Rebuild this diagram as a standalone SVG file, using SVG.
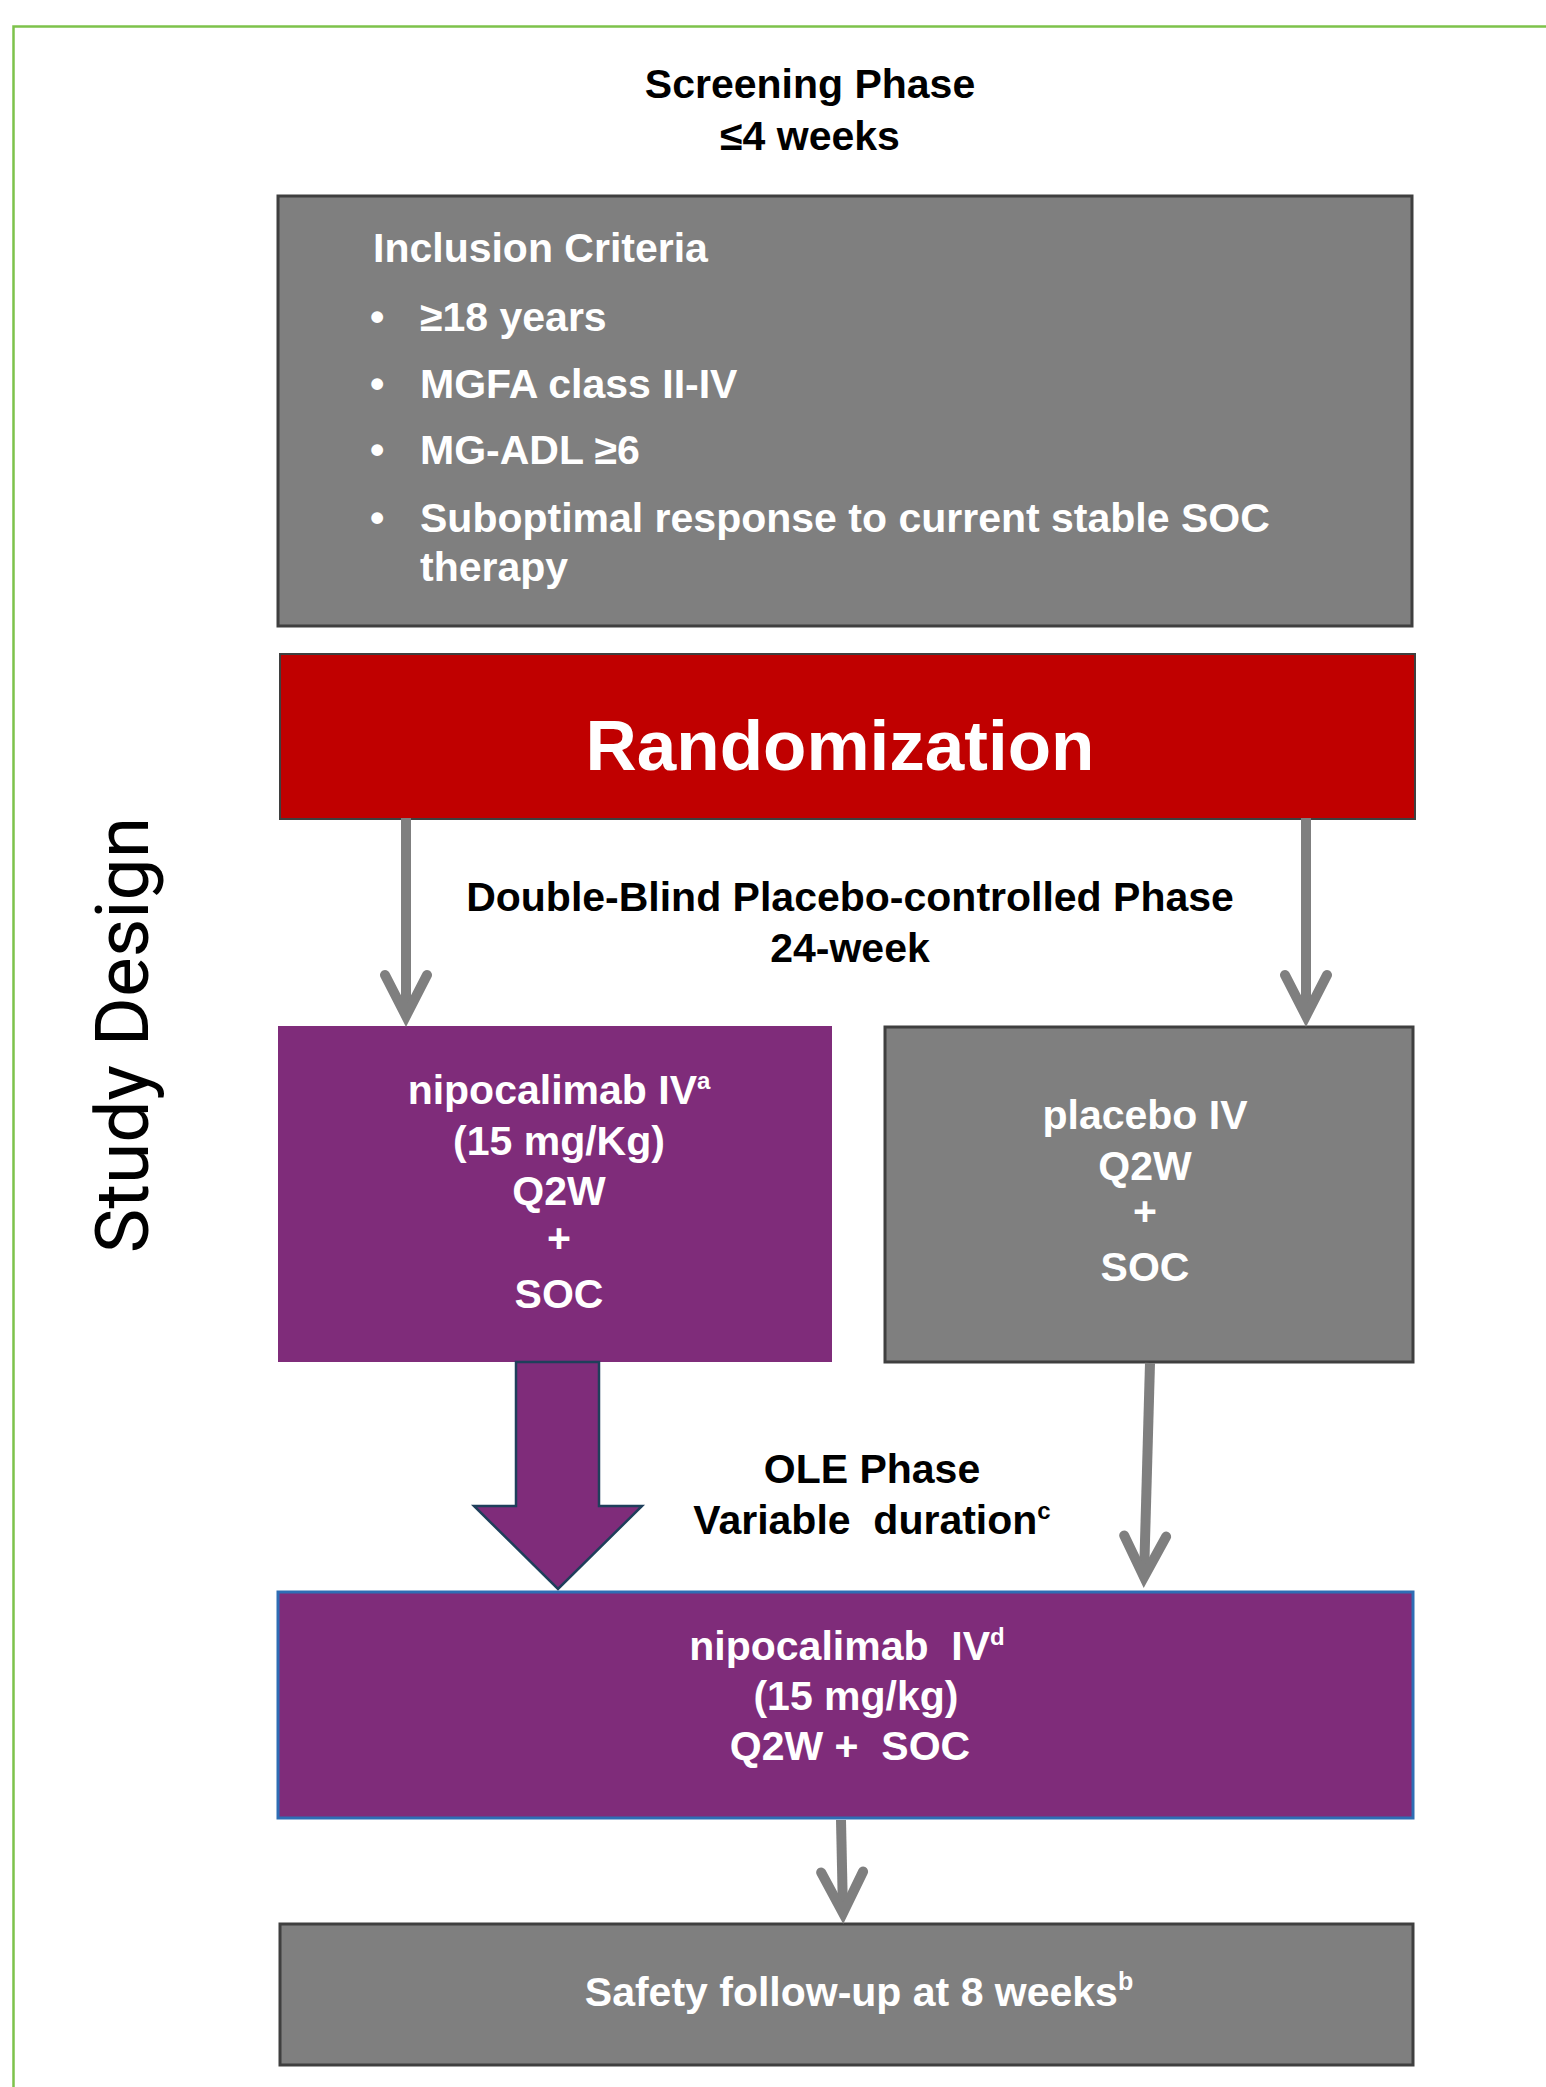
<svg xmlns="http://www.w3.org/2000/svg" width="1546" height="2087" viewBox="0 0 1546 2087">
<style>
.t{font-family:"Liberation Sans",Arial,sans-serif;font-weight:bold;font-size:41px}
.w{fill:#FFFFFF}
.k{fill:#000000}
.c{text-anchor:middle}
.gray{fill:#7F7F7F;stroke:#3F3F3F;stroke-width:3}
.purple{fill:#7F2C7A}
.conn{fill:none;stroke:#7F7F7F;stroke-width:10}
</style>
<defs>
<marker id="vee" markerUnits="userSpaceOnUse" orient="auto" markerWidth="1" markerHeight="1" refX="0" refY="0" style="overflow:visible">
<path d="M-41,-21 L0,0 L-41,21" fill="none" stroke="#7F7F7F" stroke-width="10" stroke-linecap="round" stroke-linejoin="miter"/>
</marker>
</defs>
<rect width="1546" height="2087" fill="#FFFFFF"/>
<g id="frame" fill="none" stroke="#7DC24B" stroke-width="2.5">
<path d="M13.5,2087 L13.5,26.5 L1546,26.5"/>
</g>
<g id="study-design-label">
<text transform="translate(148,1035) rotate(-90)" text-anchor="middle" font-family="Roboto,Arial,sans-serif" font-size="75" fill="#000000">Study Design</text>
</g>
<g id="screening-label">
<text class="t k c" x="810" y="98" font-size="40">Screening Phase</text>
<text class="t k c" x="810" y="150" font-size="40">≤4 weeks</text>
</g>
<g id="inclusion">
<rect class="gray" x="278" y="196" width="1134" height="430"/>
<text class="t w" x="373" y="262" font-size="40">Inclusion Criteria</text>
<text class="t w" x="370" y="331">•</text>
<text class="t w" x="420" y="331">≥18 years</text>
<text class="t w" x="370" y="398">•</text>
<text class="t w" x="420" y="398">MGFA class II-IV</text>
<text class="t w" x="370" y="464">•</text>
<text class="t w" x="420" y="464">MG-ADL ≥6</text>
<text class="t w" x="370" y="532">•</text>
<text class="t w" x="420" y="532">Suboptimal response to current stable SOC</text>
<text class="t w" x="420" y="581">therapy</text>
</g>
<g id="randomization">
<rect x="280" y="654" width="1135" height="165" fill="#C00000" stroke="#3F3F3F" stroke-width="2"/>
<text class="w c" x="840" y="770" font-family="Liberation Sans,Arial,sans-serif" font-weight="bold" font-size="71">Randomization</text>
</g>
<g id="db-label">
<text class="t k c" x="850" y="911">Double-Blind Placebo-controlled Phase</text>
<text class="t k c" x="850" y="962">24-week</text>
</g>
<g id="nipocalimab-arm">
<rect class="purple" x="278" y="1026" width="554" height="336"/>
<text class="t w c" x="559" y="1104">nipocalimab IV<tspan font-size="24" dy="-15">a</tspan></text>
<text class="t w c" x="559" y="1155">(15 mg/Kg)</text>
<text class="t w c" x="559" y="1205">Q2W</text>
<text class="t w c" x="559" y="1252">+</text>
<text class="t w c" x="559" y="1308">SOC</text>
</g>
<g id="placebo-arm">
<rect class="gray" x="885" y="1027" width="528" height="335"/>
<text class="t w c" x="1145" y="1129">placebo IV</text>
<text class="t w c" x="1145" y="1180">Q2W</text>
<text class="t w c" x="1145" y="1225">+</text>
<text class="t w c" x="1145" y="1281">SOC</text>
</g>
<g id="ole-label">
<text class="t k c" x="872" y="1483">OLE Phase</text>
<text class="t k c" x="872" y="1534" xml:space="preserve">Variable  duration<tspan font-size="24" dy="-15">c</tspan></text>
</g>
<g id="ole-treatment">
<rect class="purple" x="278" y="1592" width="1135" height="226" stroke="#2E6DB4" stroke-width="3"/>
<text class="t w c" x="847" y="1660" xml:space="preserve">nipocalimab  IV<tspan font-size="24" dy="-15">d</tspan></text>
<text class="t w c" x="856" y="1710">(15 mg/kg)</text>
<text class="t w c" x="850" y="1760" xml:space="preserve">Q2W +  SOC</text>
</g>
<g id="safety">
<rect class="gray" x="280" y="1924" width="1133" height="141"/>
<text class="t w c" x="859" y="2006" font-size="42.5">Safety follow-up at 8 weeks<tspan font-size="25" dy="-16">b</tspan></text>
</g>
<g id="connectors">
<path class="conn" d="M406,818 L406,1016" marker-end="url(#vee)"/>
<path class="conn" d="M1306,818 L1306,1016" marker-end="url(#vee)"/>
<polygon points="516,1362 599,1362 599,1506 642,1506 558,1589 474,1506 516,1506" fill="#7F2C7A" stroke="#1F3F5B" stroke-width="2.5"/>
<path class="conn" d="M1150,1363 L1144,1577" marker-end="url(#vee)"/>
<path class="conn" d="M841,1820 L843,1913" marker-end="url(#vee)"/>
</g>
</svg>
